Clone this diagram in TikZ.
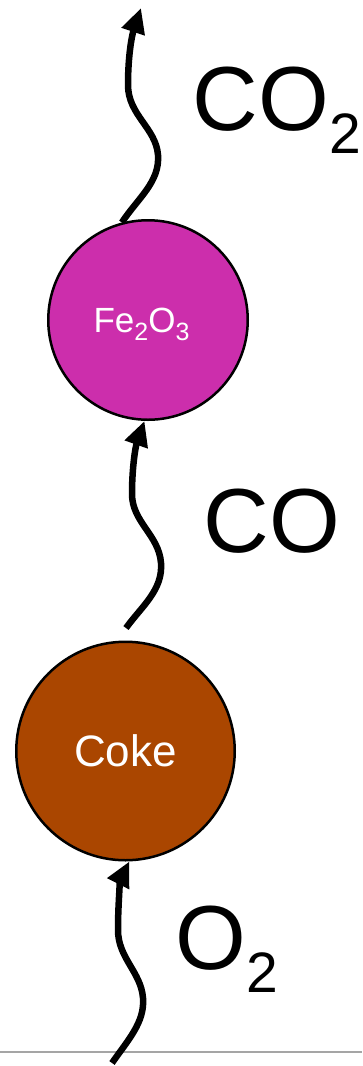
\documentclass[tikz,border=0pt]{standalone}
\usepackage{fontspec}
\setmainfont{Liberation Sans}
\usetikzlibrary{arrows.meta}
\definecolor{fecol}{RGB}{204,46,172}
\definecolor{cokecol}{RGB}{170,70,0}
\definecolor{floorgray}{RGB}{165,165,165}
\newcommand{\subd}[3]{\raisebox{-#2}[0pt][0pt]{\fontsize{#1}{#1}\selectfont #3}}
\tikzset{
  flow/.style={line width=6.5pt, -{Triangle[length=25pt,width=23pt]}},
  particle/.style={circle, draw=black, line width=2.5pt, inner sep=0pt, text=white},
  gaslabel/.style={anchor=base west, inner sep=0pt, font=\fontsize{91}{100}\selectfont},
}
\begin{document}
\begin{tikzpicture}[x=1pt,y=-1pt]
\useasboundingbox (0,0) rectangle (362,1066);
% floor line
\coordinate (fl) at (0,1052);
\coordinate (fr) at (362,1052);
\draw[floorgray, line width=1.5pt] (fl) -- (fr);
% particles
\node[particle, fill=fecol, minimum size=199.5pt, font=\fontsize{35}{40}\selectfont] (Fe) at (148,320)
  {Fe\subd{25pt}{8pt}{2}O\subd{25pt}{8pt}{3}\kern13pt};
\node[particle, fill=cokecol, minimum size=218.5pt, font=\fontsize{44}{50}\selectfont] (Coke) at (125.5,751) {Coke};
% gas labels
\node[gaslabel] (lco2) at (192.5,130) {CO\subd{57pt}{23pt}{2}};
\node[gaslabel] (lco) at (203.5,552) {CO};
\node[gaslabel] (lo2) at (175.5,969) {O\subd{57pt}{23pt}{2}};
% flows
\coordinate (o2start) at (112,1063);
\coordinate (costart) at (126,628);
\coordinate (co2end) at (141,8);
\draw[flow] (o2start) .. controls (128,1040) and (145,1022) .. (143,998)
  .. controls (141,972) and (118,958) .. (118,930)
  .. controls (118,900) and (121,878) .. (Coke.-88);
\draw[flow] (costart) .. controls (142,606) and (163,590) .. (161,563)
  .. controls (159,535) and (132,522) .. (132,494)
  .. controls (132,465) and (136,445) .. (Fe.-92);
\draw[flow] (Fe.105) .. controls (138,198) and (160,182) .. (158,155)
  .. controls (156,128) and (128,115) .. (128,85)
  .. controls (128,55) and (132,35) .. (co2end);
\end{tikzpicture}
\end{document}
